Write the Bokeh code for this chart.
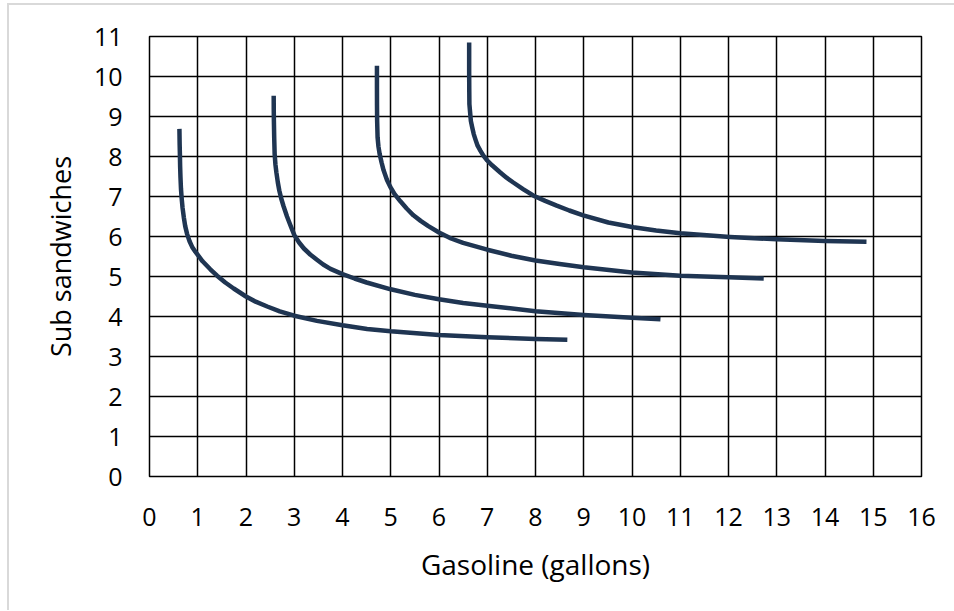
from bokeh.plotting import figure
from bokeh.models import FixedTicker, Range1d
from bokeh.embed import file_html
from bokeh.resources import INLINE

# ---- data ----
x_ticks = list(range(0, 17))
y_ticks = list(range(0, 12))

x_title = "Gasoline (gallons)"
y_title = "Sub sandwiches"

curve1_x = [0.62, 0.625, 0.63, 0.635, 0.642, 0.652, 0.665, 0.685, 0.711, 0.74, 0.78, 0.83, 0.884, 0.95, 1.0,
            1.1, 1.26, 1.4, 1.57, 1.745, 2.0, 2.2, 2.44, 2.7, 3.0, 3.47, 4.0, 4.51, 5.0, 6.0, 7.0, 8.0, 8.66]
curve1_y = [8.69, 8.3, 8.06, 7.75, 7.48, 7.2, 6.98, 6.72, 6.48, 6.26, 6.06, 5.88, 5.74, 5.62, 5.54,
            5.38, 5.18, 5.02, 4.85, 4.7, 4.5, 4.37, 4.25, 4.13, 4.02, 3.89, 3.78, 3.69, 3.63, 3.54, 3.48, 3.44, 3.42]

curve2_x = [2.574, 2.575, 2.578, 2.585, 2.594, 2.61, 2.63, 2.66, 2.69, 2.73, 2.78, 2.85, 2.92, 3.0, 3.1, 3.2,
            3.33, 3.47, 3.6, 3.75, 4.0, 4.25, 4.5, 5.0, 5.5, 6.0, 6.5, 7.0, 8.0, 9.0, 10.0, 10.59]
curve2_y = [9.52, 9.2, 8.89, 8.45, 8.06, 7.8, 7.6, 7.35, 7.15, 6.95, 6.75, 6.5, 6.28, 6.04, 5.85, 5.7,
            5.55, 5.42, 5.3, 5.19, 5.06, 4.95, 4.85, 4.68, 4.54, 4.43, 4.34, 4.27, 4.13, 4.04, 3.97, 3.93]

curve3_x = [4.714, 4.714, 4.715, 4.718, 4.727, 4.745, 4.77, 4.81, 4.85, 4.92, 4.99, 5.08, 5.2, 5.33, 5.47,
            5.62, 5.78, 6.0, 6.25, 6.5, 7.0, 7.5, 8.0, 8.5, 9.0, 10.0, 11.0, 12.0, 12.73]
curve3_y = [10.27, 9.73, 9.3, 8.89, 8.48, 8.25, 8.06, 7.85, 7.66, 7.42, 7.24, 7.06, 6.88, 6.7, 6.53,
            6.39, 6.26, 6.1, 5.95, 5.84, 5.67, 5.52, 5.4, 5.31, 5.23, 5.1, 5.02, 4.98, 4.95]

curve4_x = [6.625, 6.625, 6.625, 6.627, 6.63, 6.645, 6.66, 6.69, 6.72, 6.76, 6.8, 6.86, 6.92, 7.0, 7.1, 7.27,
            7.4, 7.54, 7.75, 7.96, 8.2, 8.44, 8.7, 8.99, 9.51, 10.03, 10.5, 11.0, 12.03, 13.0, 14.0, 14.86]
curve4_y = [10.85, 10.5, 10.14, 9.7, 9.31, 9.1, 8.89, 8.72, 8.56, 8.41, 8.27, 8.14, 8.02, 7.9, 7.78, 7.6,
            7.47, 7.35, 7.18, 7.02, 6.89, 6.77, 6.65, 6.53, 6.35, 6.23, 6.15, 6.08, 5.99, 5.93, 5.89, 5.87]

curves = [(curve1_x, curve1_y), (curve2_x, curve2_y), (curve3_x, curve3_y), (curve4_x, curve4_y)]

FONT = "Open Sans"
CURVE_COLOR = "#1f3552"

p = figure(width=947, height=607,
           x_range=Range1d(0, 16), y_range=Range1d(0, 11),
           output_backend="svg", toolbar_location=None,
           min_border_left=142, min_border_right=33,
           min_border_top=33, min_border_bottom=134)

p.styles = {"margin-top": "3px", "margin-left": "7px",
            "box-shadow": "inset 2px 2px 0 0 #d9d9d9"}
p.border_fill_color = None
p.background_fill_color = "white"

p.outline_line_color = "black"
p.outline_line_width = 1.5

for g in (p.xgrid, p.ygrid):
    g.grid_line_color = "black"
    g.grid_line_width = 1.5
    g.grid_line_alpha = 1.0
p.xgrid.ticker = FixedTicker(ticks=x_ticks)
p.ygrid.ticker = FixedTicker(ticks=y_ticks)

p.xaxis.ticker = FixedTicker(ticks=x_ticks)
p.yaxis.ticker = FixedTicker(ticks=y_ticks)

for ax in (p.xaxis, p.yaxis):
    ax.axis_line_color = None
    ax.major_tick_line_color = None
    ax.minor_tick_line_color = None
    ax.major_tick_out = 0
    ax.major_label_text_font = FONT
    ax.major_label_text_font_size = "25px"
    ax.major_label_text_color = "black"
    ax.axis_label_text_font = FONT
    ax.axis_label_text_font_style = "normal"
    ax.axis_label_text_color = "black"

p.xaxis.axis_label = x_title
p.yaxis.axis_label = y_title
p.xaxis.axis_label_text_font_size = "28px"
p.yaxis.axis_label_text_font_size = "27px"
p.xaxis.major_label_standoff = 31
p.yaxis.major_label_standoff = 27
p.xaxis.axis_label_standoff = 16
p.yaxis.axis_label_standoff = 12

for cx, cy in curves:
    p.line(cx, cy, line_color=CURVE_COLOR, line_width=4.5, line_cap="butt", line_join="round")

open("out.html", "w").write(file_html(p, INLINE))
